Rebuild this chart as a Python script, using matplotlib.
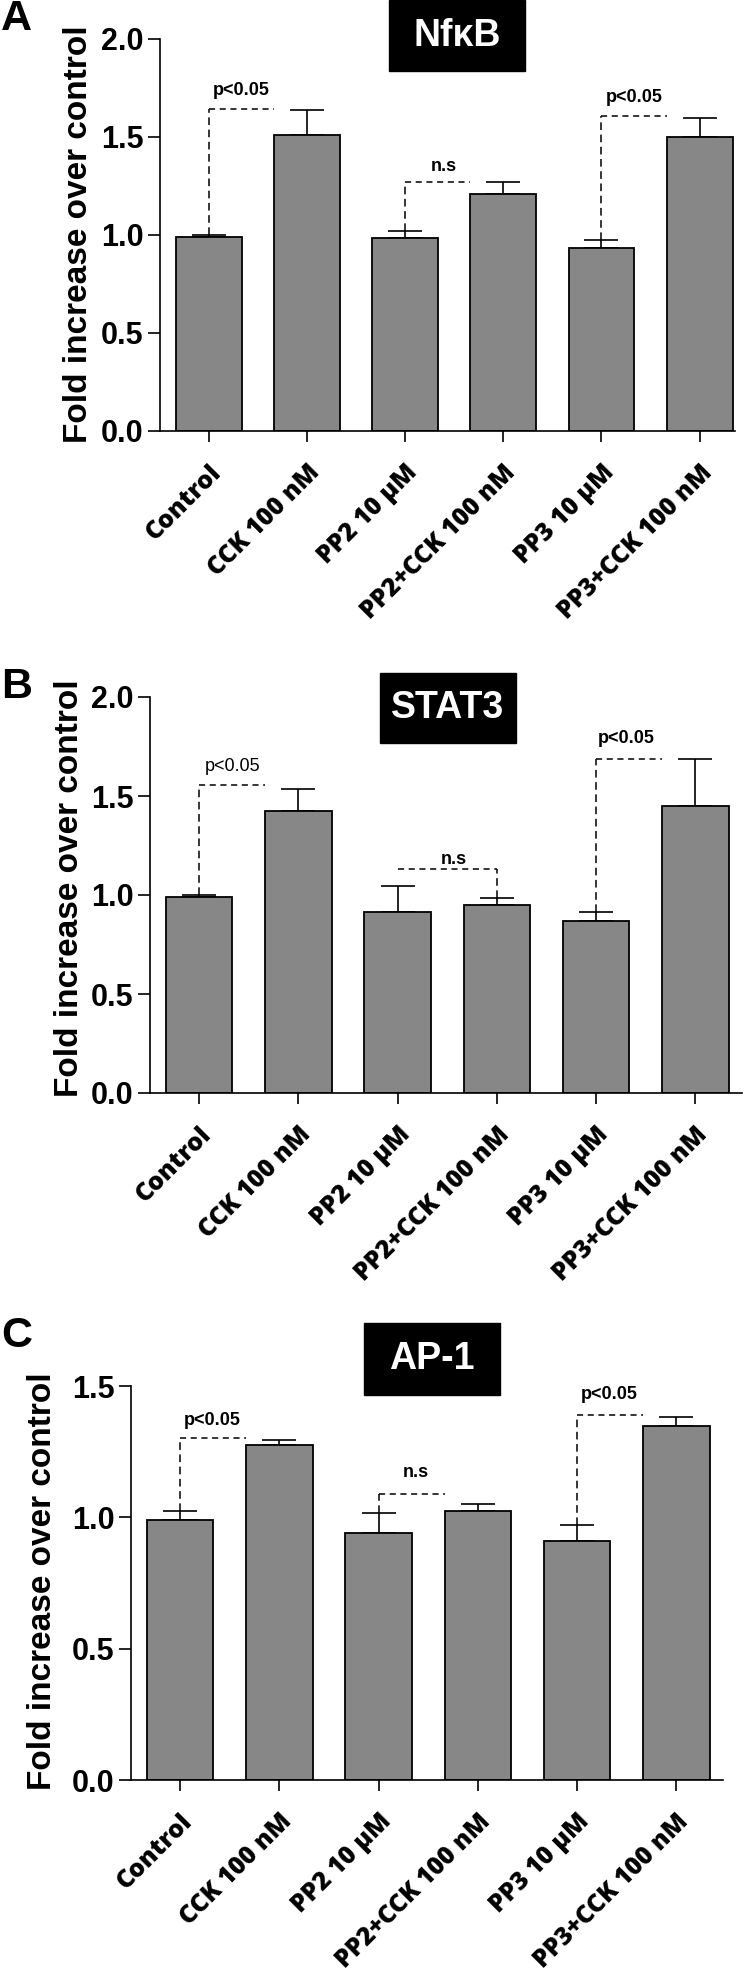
import matplotlib
matplotlib.use("Agg")
import matplotlib.pyplot as plt
from matplotlib.patches import Rectangle

# data
groups = ['Control', 'CCK 100 nM', 'PP2 10 \u03bcM', 'PP2+CCK 100 nM', 'PP3 10 \u03bcM', 'PP3+CCK 100 nM']

nfkb_mean = [0.99, 1.51, 0.985, 1.21, 0.935, 1.50]
nfkb_err = [0.01, 0.13, 0.035, 0.06, 0.04, 0.095]

stat3_mean = [0.99, 1.425, 0.915, 0.95, 0.867, 1.452]
stat3_err = [0.01, 0.11, 0.13, 0.035, 0.047, 0.237]

ap1_mean = [0.99, 1.275, 0.94, 1.026, 0.911, 1.348]
ap1_err = [0.035, 0.018, 0.078, 0.025, 0.059, 0.034]

# brackets: (left bar, right bar, line height, label, text x, text y, bold, vertical side)
nfkb_brackets = [(0, 1, 1.643, 'p<0.05', 0.33, 1.735, True, 'left'),
                 (2, 3, 1.27, 'n.s', 2.39, 1.347, True, 'left'),
                 (4, 5, 1.607, 'p<0.05', 4.33, 1.70, True, 'left')]
stat3_brackets = [(0, 1, 1.557, 'p<0.05', 0.34, 1.647, False, 'left'),
                  (2, 3, 1.13, 'n.s', 2.57, 1.177, True, 'right'),
                  (4, 5, 1.689, 'p<0.05', 4.30, 1.788, True, 'left')]
ap1_brackets = [(0, 1, 1.303, 'p<0.05', 0.32, 1.37, True, 'left'),
                (2, 3, 1.088, 'n.s', 2.38, 1.169, True, 'left'),
                (4, 5, 1.391, 'p<0.05', 4.32, 1.467, True, 'left')]

W, H = 748, 1970
fig = plt.figure(figsize=(W / 100, H / 100), dpi=100)

BAR_W = 0.67
GREY = '#878787'
tick_font = ['Liberation Sans', 'DejaVu Sans']
lab_font = ['Open Sans', 'DejaVu Sans']
ann_font = ['Liberation Sans', 'DejaVu Sans']


def px_axes(left, right, top, bottom):
    # axes from pixel box
    return fig.add_axes([left / W, 1 - bottom / H, (right - left) / W, (bottom - top) / H])


def draw_panel(box, xlim, ymax, yticks, mean, err, brackets, title, title_box, letter, letter_y, ylab_xy):
    ax = px_axes(*box)
    x = list(range(len(groups)))
    ax.bar(x, mean, width=BAR_W, color=GREY, edgecolor='black', linewidth=1.3, zorder=2)
    ax.errorbar(x, mean, yerr=[[0] * len(err), err], fmt='none', ecolor='black',
                elinewidth=1.2, capsize=12, capthick=1.2, zorder=1)
    ax.set_xlim(*xlim)
    ax.set_ylim(0, ymax)
    ax.set_yticks(yticks)
    ax.set_yticklabels(['%.1f' % v for v in yticks], fontsize=22, fontweight='bold', family=tick_font)
    ax.set_xticks(x)
    ax.set_xticklabels(groups, rotation=45, ha='right', va='top', rotation_mode='anchor',
                       fontsize=18, fontweight='heavy', family=lab_font)
    ax.tick_params(axis='y', length=9, width=1.2, pad=3)
    ax.tick_params(axis='x', length=8, width=1.2, pad=13)
    for s in ['top', 'right']:
        ax.spines[s].set_visible(False)
    for s in ['left', 'bottom']:
        ax.spines[s].set_linewidth(1.2)
    ax.patch.set_alpha(0)

    for (i, j, yb, txt, tx, ty, bold, side) in brackets:
        if side == 'left':
            ax.plot([i, i], [mean[i] + err[i], yb], ls=(0, (5, 3)), color='black', lw=1.1, clip_on=False)
            ax.plot([i, j - BAR_W / 2], [yb, yb], ls=(0, (4, 3)), color='black', lw=1.1, clip_on=False)
        else:
            ax.plot([i, j], [yb, yb], ls=(0, (4, 3)), color='black', lw=1.1, clip_on=False)
            ax.plot([j, j], [mean[j] + err[j], yb], ls=(0, (5, 3)), color='black', lw=1.1, clip_on=False)
        ax.text(tx, ty, txt, ha='center', va='center', fontsize=13,
                fontweight='bold' if bold else 'normal', family=ann_font)

    # black title box
    bl, br, bt, bb = title_box
    fig.add_artist(Rectangle((bl / W, 1 - bb / H), (br - bl) / W, (bb - bt) / H,
                             transform=fig.transFigure, color='black'))
    fig.text((bl + br) / 2 / W, 1 - (bt + bb) / 2 / H, title, color='white', ha='center', va='center',
             fontsize=27, fontweight='bold', family=ann_font)

    fig.text(1 / W, 1 - letter_y / H, letter, ha='left', va='top', fontsize=31, fontweight='bold',
             family=ann_font)
    fig.text(ylab_xy[0] / W, 1 - ylab_xy[1] / H, 'Fold increase over control', rotation=90,
             ha='center', va='center', fontsize=24, fontweight='bold', family=ann_font)
    return ax


draw_panel((160, 735, 39, 431), (-0.497, 5.36), 2.0, [0.0, 0.5, 1.0, 1.5, 2.0],
           nfkb_mean, nfkb_err, nfkb_brackets, 'Nf\u03baB', (389, 525, 0, 71), 'A', -1, (79, 234))
draw_panel((150, 742, 697, 1093), (-0.494, 5.47), 2.0, [0.0, 0.5, 1.0, 1.5, 2.0],
           stat3_mean, stat3_err, stat3_brackets, 'STAT3', (380, 516, 673, 743), 'B', 667, (70, 888))
draw_panel((131, 723, 1386, 1780), (-0.494, 5.47), 1.5, [0.0, 0.5, 1.0, 1.5],
           ap1_mean, ap1_err, ap1_brackets, 'AP-1', (364, 500, 1323, 1395), 'C', 1316, (43, 1581))

fig.savefig('out.png', dpi=100)
